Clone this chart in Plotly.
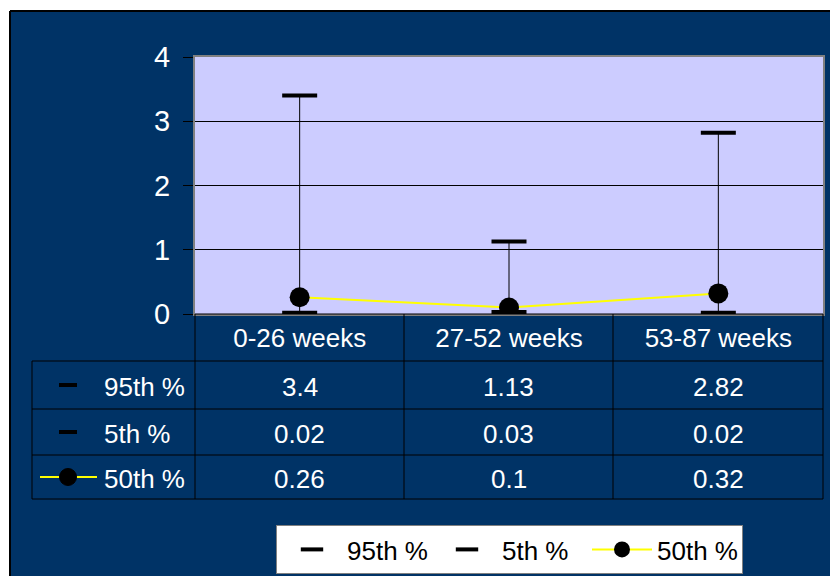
import plotly.graph_objects as go

categories = ["0-26 weeks", "27-52 weeks", "53-87 weeks"]
p95 = [3.4, 1.13, 2.82]
p5 = [0.02, 0.03, 0.02]
p50 = [0.26, 0.1, 0.32]
series_names = ["95th %", "5th %", "50th %"]
y_ticks = [0, 1, 2, 3, 4]

W, H = 830, 576
L, R, T, B = 195, 7, 57, 262  # plot area 195..823, 57..314
PW, PH = W - L - R, H - T - B

NAVY = "#003366"
LAV = "#CCCCFF"
FONT = "Arial, Liberation Sans, sans-serif"
TFS = 26


def px(x):
    return (x - L) / PW


def py(y):
    return (H - B - y) / PH


fig = go.Figure()

# vertical whiskers from 5th to 95th
wx, wy = [], []
for c, lo, hi in zip(categories, p5, p95):
    wx += [c, c, None]
    wy += [lo, hi, None]
fig.add_trace(go.Scatter(x=wx, y=wy, mode="lines", line=dict(color="black", width=1),
                         showlegend=False, hoverinfo="skip"))

fig.add_trace(go.Scatter(x=categories, y=p95, mode="markers", name=series_names[0],
                         marker=dict(symbol="line-ew", size=25, color="black",
                                     line=dict(color="black", width=4))))
fig.add_trace(go.Scatter(x=categories, y=p5, mode="markers", name=series_names[1],
                         marker=dict(symbol="line-ew", size=25, color="black",
                                     line=dict(color="black", width=4))))
fig.add_trace(go.Scatter(x=categories, y=p50, mode="lines+markers", name=series_names[2],
                         line=dict(color="#FFFF00", width=2),
                         marker=dict(symbol="circle", size=20, color="black")))

shapes = []
# white margins top/left and the frame border
shapes.append(dict(type="rect", xref="paper", yref="paper", x0=px(0), x1=px(10), y0=py(H), y1=py(0),
                   fillcolor="white", line=dict(width=0), layer="below"))
shapes.append(dict(type="rect", xref="paper", yref="paper", x0=px(0), x1=px(W), y0=py(11), y1=py(0),
                   fillcolor="white", line=dict(width=0), layer="below"))
shapes.append(dict(type="line", xref="paper", yref="paper", x0=px(10), x1=px(W), y0=py(11), y1=py(11),
                   line=dict(color="black", width=2)))
shapes.append(dict(type="line", xref="paper", yref="paper", x0=px(10), x1=px(10), y0=py(11), y1=py(H),
                   line=dict(color="black", width=2)))

# data table grid
row_lines = [361, 409, 455, 499]
col_lines = [195, 404, 613, 823]
for yy in row_lines:
    shapes.append(dict(type="line", xref="paper", yref="paper", x0=px(32), x1=px(823),
                       y0=py(yy), y1=py(yy), line=dict(color="black", width=1)))
shapes.append(dict(type="line", xref="paper", yref="paper", x0=px(195), x1=px(823),
                   y0=py(314), y1=py(314), line=dict(color="black", width=1)))
for xx in col_lines:
    shapes.append(dict(type="line", xref="paper", yref="paper", x0=px(xx), x1=px(xx),
                       y0=py(314), y1=py(499), line=dict(color="black", width=1)))
shapes.append(dict(type="line", xref="paper", yref="paper", x0=px(32), x1=px(32),
                   y0=py(361), y1=py(499), line=dict(color="black", width=1)))

row_centers = [385, 432, 477]
# table legend keys
for yy in row_centers[:2]:
    shapes.append(dict(type="line", xref="paper", yref="paper", x0=px(59), x1=px(77),
                       y0=py(yy), y1=py(yy), line=dict(color="black", width=4)))
shapes.append(dict(type="line", xref="paper", yref="paper", x0=px(40), x1=px(97),
                   y0=py(row_centers[2]), y1=py(row_centers[2]), line=dict(color="#FFFF00", width=2)))
shapes.append(dict(type="circle", xref="paper", yref="paper", x0=px(59.5), x1=px(76.5),
                   y0=py(row_centers[2] + 8.5), y1=py(row_centers[2] - 8.5),
                   fillcolor="black", line=dict(color="black", width=1)))

annotations = []
table_rows = [p95, p5, p50]
col_centers = [(col_lines[i] + col_lines[i + 1]) / 2 for i in range(3)]
for name, vals, yy in zip(series_names, table_rows, row_centers):
    ty = yy + 2
    annotations.append(dict(xref="paper", yref="paper", x=px(102), y=py(ty), text=name,
                            showarrow=False, xanchor="left", yanchor="middle",
                            font=dict(color="white", size=TFS, family=FONT)))
    for v, cx in zip(vals, col_centers):
        annotations.append(dict(xref="paper", yref="paper", x=px(cx), y=py(ty), text=f"{v:g}",
                                showarrow=False, xanchor="center", yanchor="middle",
                                font=dict(color="white", size=TFS, family=FONT)))

fig.update_layout(
    width=W, height=H,
    margin=dict(l=L, r=R, t=T, b=B, pad=0, autoexpand=False),
    paper_bgcolor=NAVY,
    plot_bgcolor=LAV,
    font=dict(family=FONT, color="white"),
    shapes=shapes,
    annotations=annotations,
    showlegend=True,
    legend=dict(orientation="h", x=px(276), y=py(525), xanchor="left", yanchor="top",
                bgcolor="white", bordercolor="#808080", borderwidth=1,
                font=dict(color="black", size=TFS, family=FONT),
                itemsizing="trace", itemwidth=60, entrywidth=80, traceorder="normal"),
    xaxis=dict(type="category", range=[-0.5, 2.5], showgrid=False, zeroline=False,
               showline=True, mirror=True, linecolor="#808080", linewidth=2,
               ticks="", tickfont=dict(color="white", size=TFS, family=FONT),
               ticklabelstandoff=0, fixedrange=True),
    yaxis=dict(range=[0, 4], tickvals=y_ticks, showgrid=True, gridcolor="black", gridwidth=1,
               zeroline=False, showline=True, mirror=True, linecolor="#808080", linewidth=2,
               ticks="outside", ticklen=10, tickcolor="black", tickwidth=1,
               tickfont=dict(color="white", size=29, family=FONT), ticklabelstandoff=7,
               fixedrange=True),
)

fig.write_html(
    "out.html",
    config={"displayModeBar": False},
    post_script=(
        "document.documentElement.style.margin='0';"
        "document.body.style.margin='0';"
        "document.documentElement.style.overflow='hidden';"
        "document.body.style.overflow='hidden';"
    ),
)
